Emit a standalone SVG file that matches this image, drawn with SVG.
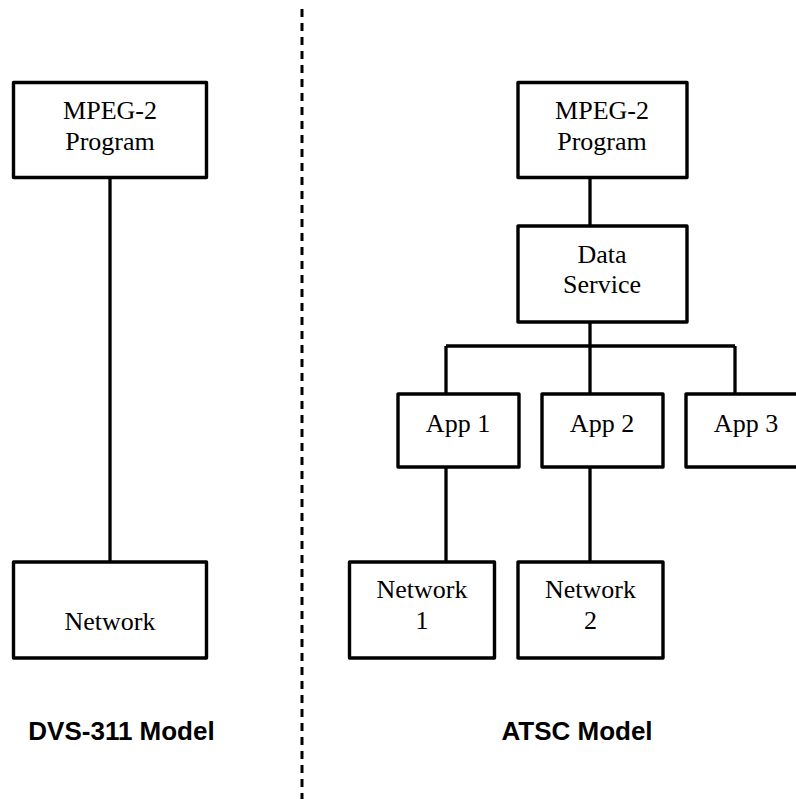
<svg xmlns="http://www.w3.org/2000/svg" width="796" height="799" viewBox="0 0 796 799">
<style>
.box{fill:#fff;stroke:#000;stroke-width:3.4;stroke-linejoin:round}
.lbl{font-family:"Liberation Serif","Times New Roman",serif;font-size:26px;fill:#000;text-anchor:middle}
.ttl{font-family:"Liberation Sans",Arial,sans-serif;font-size:26px;font-weight:bold;fill:#000;text-anchor:middle}
.ln{stroke:#000;stroke-width:3.3;fill:none}
.div{stroke:#000;stroke-width:3;stroke-dasharray:8 6;fill:none}
</style>
<rect width="796" height="799" fill="#fff"/>
<g id="connectors">
<line class="div" x1="302" y1="9" x2="302" y2="799"/>
<line class="ln" x1="110" y1="178" x2="110" y2="562"/>
<line class="ln" x1="590" y1="178" x2="590" y2="226"/>
<line class="ln" x1="590" y1="322" x2="590" y2="346"/>
<line class="ln" x1="446" y1="346" x2="735" y2="346"/>
<line class="ln" x1="446" y1="346" x2="446" y2="394"/>
<line class="ln" x1="590" y1="346" x2="590" y2="394"/>
<line class="ln" x1="735" y1="346" x2="735" y2="394"/>
<line class="ln" x1="446" y1="467" x2="446" y2="562"/>
<line class="ln" x1="590" y1="467" x2="590" y2="562"/>
</g>
<g id="dvs-mpeg">
<rect class="box" x="13.5" y="82.5" width="193" height="95"/>
<text class="lbl" x="110" y="119">MPEG-2</text>
<text class="lbl" x="110" y="150">Program</text>
</g>
<g id="dvs-network">
<rect class="box" x="13.5" y="562" width="193" height="96"/>
<text class="lbl" x="110" y="630">Network</text>
</g>
<g id="atsc-mpeg">
<rect class="box" x="518" y="82.5" width="169" height="95"/>
<text class="lbl" x="602" y="119">MPEG-2</text>
<text class="lbl" x="602" y="150">Program</text>
</g>
<g id="data-service">
<rect class="box" x="518" y="226" width="169" height="96"/>
<text class="lbl" x="602" y="263">Data</text>
<text class="lbl" x="602" y="293">Service</text>
</g>
<g id="app1">
<rect class="box" x="398" y="394" width="121" height="73"/>
<text class="lbl" x="458" y="432">App 1</text>
</g>
<g id="app2">
<rect class="box" x="542" y="394" width="121" height="73"/>
<text class="lbl" x="602" y="432">App 2</text>
</g>
<g id="app3">
<rect class="box" x="686" y="394" width="121" height="73"/>
<text class="lbl" x="746" y="432">App 3</text>
</g>
<g id="network1">
<rect class="box" x="349.5" y="562" width="145" height="96"/>
<text class="lbl" x="422" y="598">Network</text>
<text class="lbl" x="422" y="629">1</text>
</g>
<g id="network2">
<rect class="box" x="518" y="562" width="145" height="96"/>
<text class="lbl" x="590.5" y="598">Network</text>
<text class="lbl" x="590.5" y="629">2</text>
</g>
<g id="titles">
<text class="ttl" x="121.5" y="740">DVS-311 Model</text>
<text class="ttl" x="577" y="740">ATSC Model</text>
</g>
</svg>
